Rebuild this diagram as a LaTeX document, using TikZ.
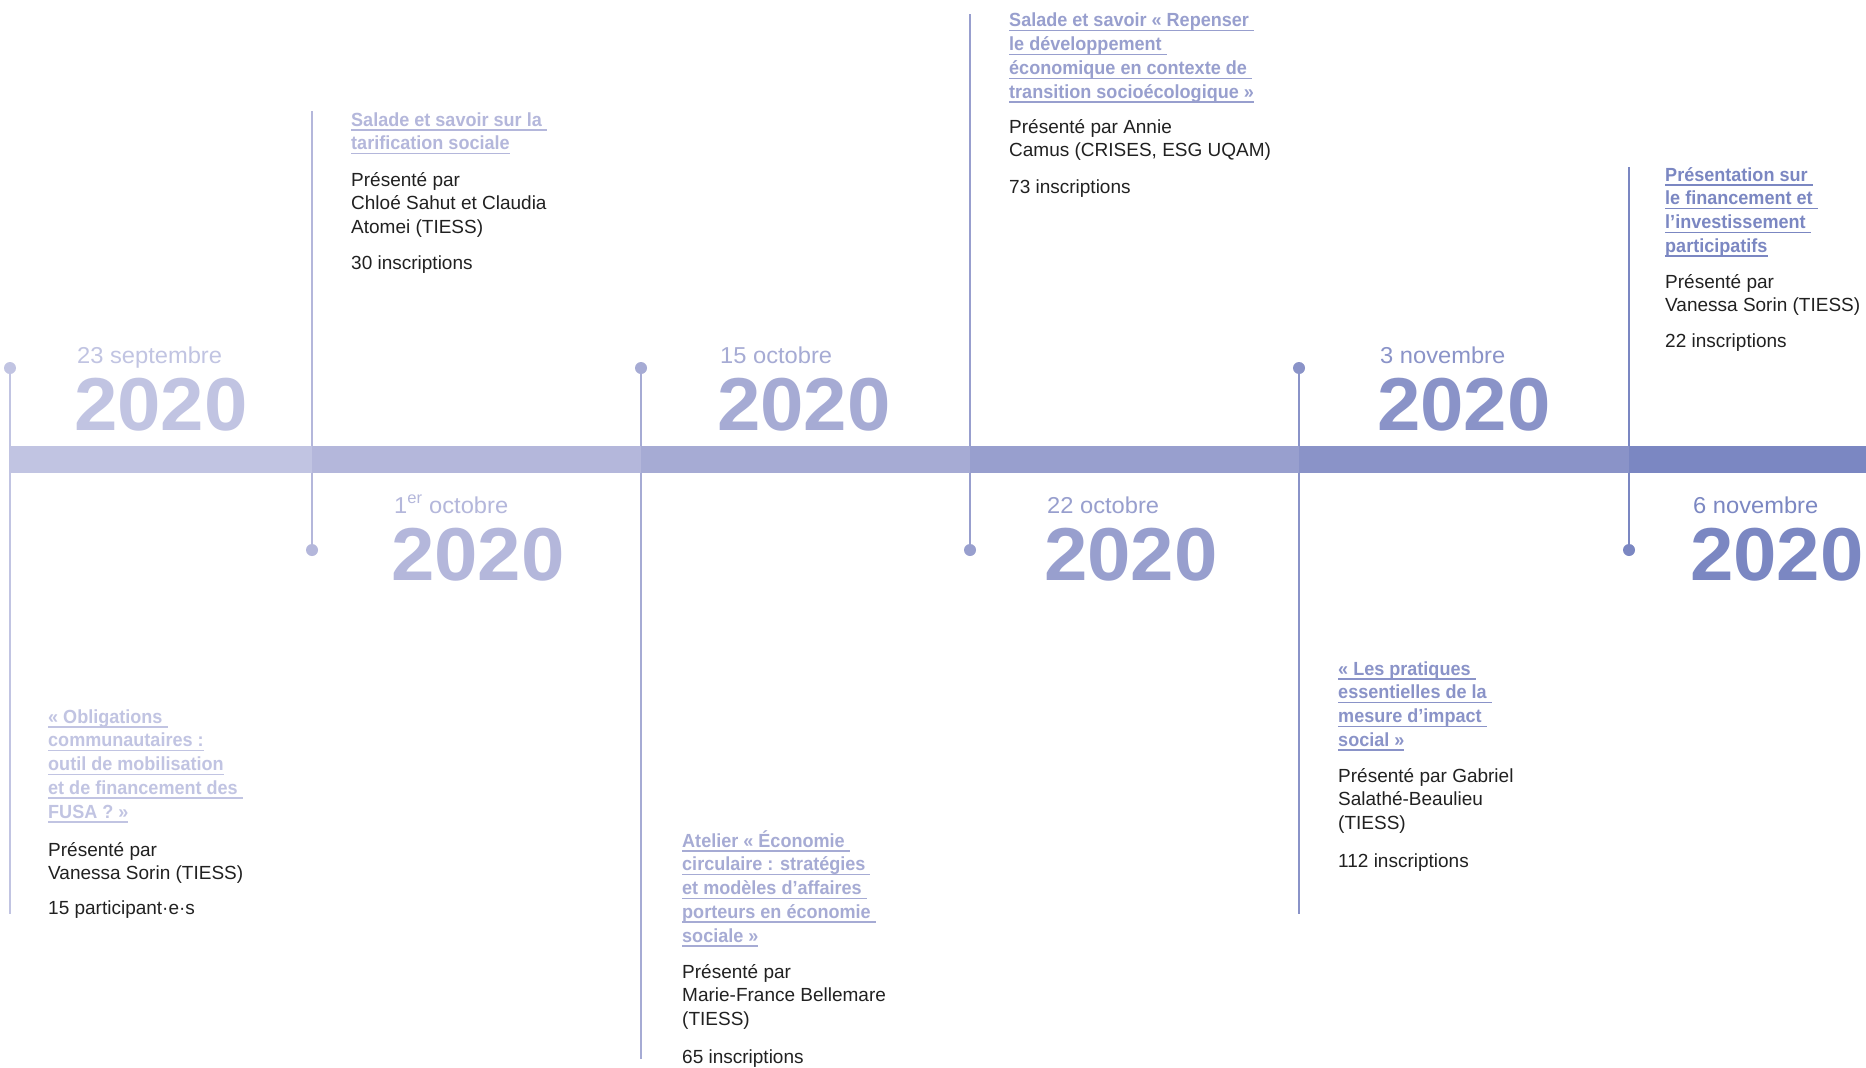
\documentclass[tikz,border=0pt]{standalone}
\usepackage{fontspec}
\setmainfont{Liberation Sans}
\newfontfamily\titlef{Liberation Sans}[FakeStretch=0.95]
\newfontfamily\yearf{Liberation Sans}[FakeStretch=1.04]
\newfontfamily\datef{Liberation Sans}[FakeStretch=1.03]
\definecolor{c1}{HTML}{C1C4E2}
\definecolor{c2}{HTML}{B4B7DB}
\definecolor{c3}{HTML}{A6ABD4}
\definecolor{c4}{HTML}{989FCE}
\definecolor{c5}{HTML}{8A93C8}
\definecolor{c6}{HTML}{7B87C2}
\definecolor{txt}{HTML}{212121}
\newsavebox\ulbox
\newcommand\ulx[1]{\sbox\ulbox{#1}\rlap{\rule[-4.5pt]{\wd\ulbox}{1.5pt}}\usebox\ulbox}
\tikzset{
  ttl/.style={font=\titlef\bfseries\fontsize{19}{24}\selectfont, inner sep=0, anchor=base west},
  body/.style={font=\fontsize{19}{24}\selectfont, text=txt, inner sep=0, anchor=base west},
  datesm/.style={font=\datef\fontsize{23}{28}\selectfont, inner sep=0, anchor=base west},
  year/.style={font=\yearf\bfseries\fontsize{75}{80}\selectfont, inner sep=0, anchor=base west},
  dot/.style={circle, inner sep=0, minimum size=12pt},
  conn/.style={line width=2.5pt}
}
\newcommand\evtitles[5]{%
  \foreach \t [count=\i] in {#5}
    \node[ttl, text=#4] (#1t\i) at (#2, {#3+23.8*(\i-1)}) {\ulx{\t}};}
\newcommand\evbody[4]{%
  \foreach \t [count=\i] in {#4}
    \node[body] (#1p\i) at (#2, {#3+23.8*(\i-1)}) {\t};}
\begin{document}
\begin{tikzpicture}[x=1pt,y=-1pt]
\useasboundingbox[fill=white] (0,0) rectangle (1866,1068);

% vertical connectors with dots
\node[dot, fill=c1] (d1) at (10,368) {};
\coordinate (e1) at (10,914);
\draw[conn, c1] (d1.center) -- (e1);
\node[dot, fill=c2] (d2) at (312,550) {};
\coordinate (e2) at (312,111);
\draw[conn, c2] (d2.center) -- (e2);
\node[dot, fill=c3] (d3) at (641,368) {};
\coordinate (e3) at (641,1059);
\draw[conn, c3] (d3.center) -- (e3);
\node[dot, fill=c4] (d4) at (970,550) {};
\coordinate (e4) at (970,14);
\draw[conn, c4] (d4.center) -- (e4);
\node[dot, fill=c5] (d5) at (1299,368) {};
\coordinate (e5) at (1299,914);
\draw[conn, c5] (d5.center) -- (e5);
\node[dot, fill=c6] (d6) at (1629,550) {};
\coordinate (e6) at (1629,167);
\draw[conn, c6] (d6.center) -- (e6);

% timeline bar
\fill[c1] (10,446) rectangle (312,473);
\fill[c2] (312,446) rectangle (641,473);
\fill[c3] (641,446) rectangle (970,473);
\fill[c4] (970,446) rectangle (1299,473);
\fill[c5] (1299,446) rectangle (1629,473);
\fill[c6] (1629,446) rectangle (1866,473);

% dates
\node[datesm, text=c1] (dt1) at (77,363) {23 septembre};
\node[year, text=c1] (y1) at (74,430) {2020};
\node[datesm, text=c2] (dt2) at (394,513) {1\textsuperscript{er} octobre};
\node[year, text=c2] (y2) at (391,580) {2020};
\node[datesm, text=c3] (dt3) at (720,363) {15 octobre};
\node[year, text=c3] (y3) at (717,430) {2020};
\node[datesm, text=c4] (dt4) at (1047,513) {22 octobre};
\node[year, text=c4] (y4) at (1044,580) {2020};
\node[datesm, text=c5] (dt5) at (1380,363) {3 novembre};
\node[year, text=c5] (y5) at (1377,430) {2020};
\node[datesm, text=c6] (dt6) at (1693,513) {6 novembre};
\node[year, text=c6] (y6) at (1690,580) {2020};

% event 1
\evtitles{a}{48}{723}{c1}{{« Obligations\ },{communautaires :},{outil de mobilisation},{et de financement des\ },{FUSA ? »}}
\evbody{a}{48}{856}{{Présenté par},{Vanessa Sorin (TIESS)}}
\node[body] (ac) at (48,914) {15 participant·e·s};

% event 2
\evtitles{b}{351}{126}{c2}{{Salade et savoir sur la\ },{tarification sociale}}
\evbody{b}{351}{186}{{Présenté par},{Chloé Sahut et Claudia},{Atomei (TIESS)}}
\node[body] (bc) at (351,269) {30 inscriptions};

% event 3
\evtitles{c}{682}{847}{c3}{{Atelier « Économie\ },{circulaire : stratégies\ },{et modèles d’affaires\ },{porteurs en économie\ },{sociale »}}
\evbody{c}{682}{978}{{Présenté par},{Marie-France Bellemare},{(TIESS)}}
\node[body] (cc) at (682,1063) {65 inscriptions};

% event 4
\evtitles{d}{1009}{27}{c4}{{Salade et savoir « Repenser\ },{le développement\ },{économique en contexte de\ },{transition socioécologique »}}
\evbody{d}{1009}{133}{{Présenté par Annie},{Camus (CRISES, ESG UQAM)}}
\node[body] (dc) at (1009,193) {73 inscriptions};

% event 5
\evtitles{e}{1338}{675}{c5}{{« Les pratiques\ },{essentielles de la\ },{mesure d’impact\ },{social »}}
\evbody{e}{1338}{782}{{Présenté par Gabriel},{Salathé-Beaulieu},{(TIESS)}}
\node[body] (ec) at (1338,867) {112 inscriptions};

% event 6
\evtitles{f}{1665}{181}{c6}{{Présentation sur\ },{le financement et\ },{l’investissement\ },{participatifs}}
\evbody{f}{1665}{288}{{Présenté par},{Vanessa Sorin (TIESS)}}
\node[body] (fc) at (1665,347) {22 inscriptions};
\end{tikzpicture}
\end{document}
